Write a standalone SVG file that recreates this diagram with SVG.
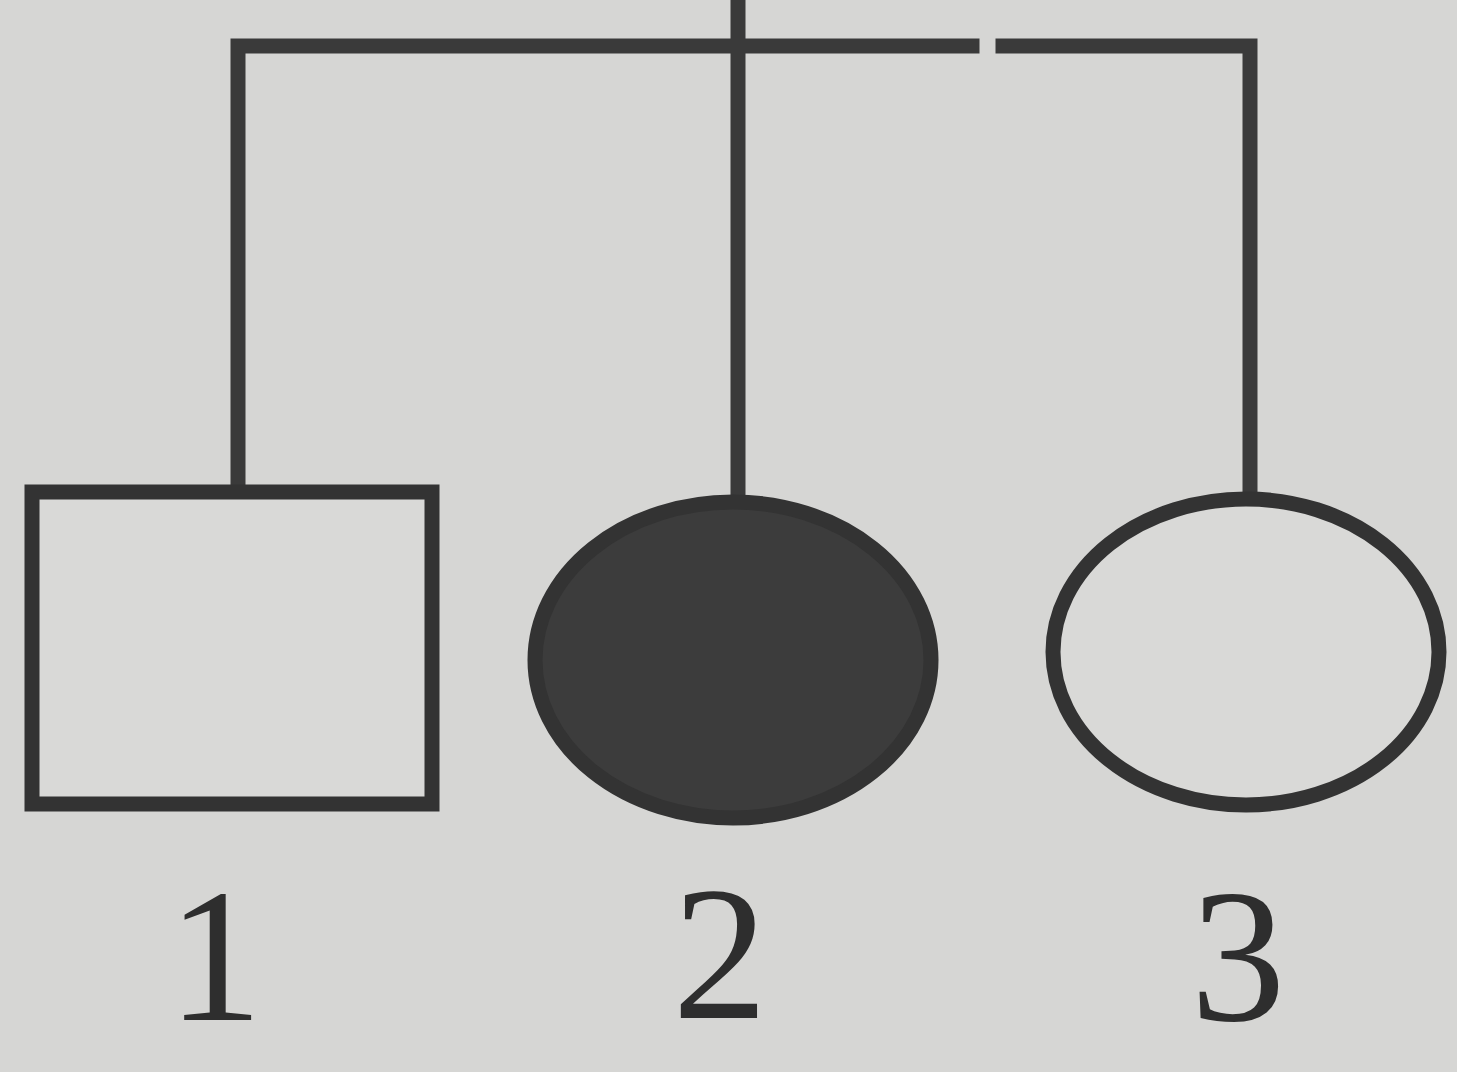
<svg xmlns="http://www.w3.org/2000/svg" width="1457" height="1072" viewBox="0 0 1457 1072">
<style>
.ln{stroke:#3a3a3a;stroke-width:15;fill:none;stroke-linecap:square}
.nd{stroke:#333;stroke-width:15}
.lb{font-family:"Liberation Serif",serif;font-size:190px;fill:#2e2e2e;text-anchor:middle}
</style>
<rect width="1457" height="1072" fill="#d6d6d4"/>
<g id="connectors">
<path class="ln" d="M238,486 V46 H972"/>
<path class="ln" d="M1003,46 H1250 V492"/>
<path class="ln" d="M738,0 V496"/>
</g>
<g id="node1">
<rect class="nd" x="32" y="492" width="400" height="312" fill="#d9d9d7"/>
<text class="lb" x="215" y="1020">1</text>
</g>
<g id="node2">
<ellipse class="nd" cx="733" cy="660" rx="198" ry="158" fill="#3c3c3c"/>
<text class="lb" x="720" y="1018">2</text>
</g>
<g id="node3">
<ellipse class="nd" cx="1246" cy="652" rx="193" ry="153" fill="#d9d9d7"/>
<text class="lb" x="1238" y="1020">3</text>
</g>
</svg>
